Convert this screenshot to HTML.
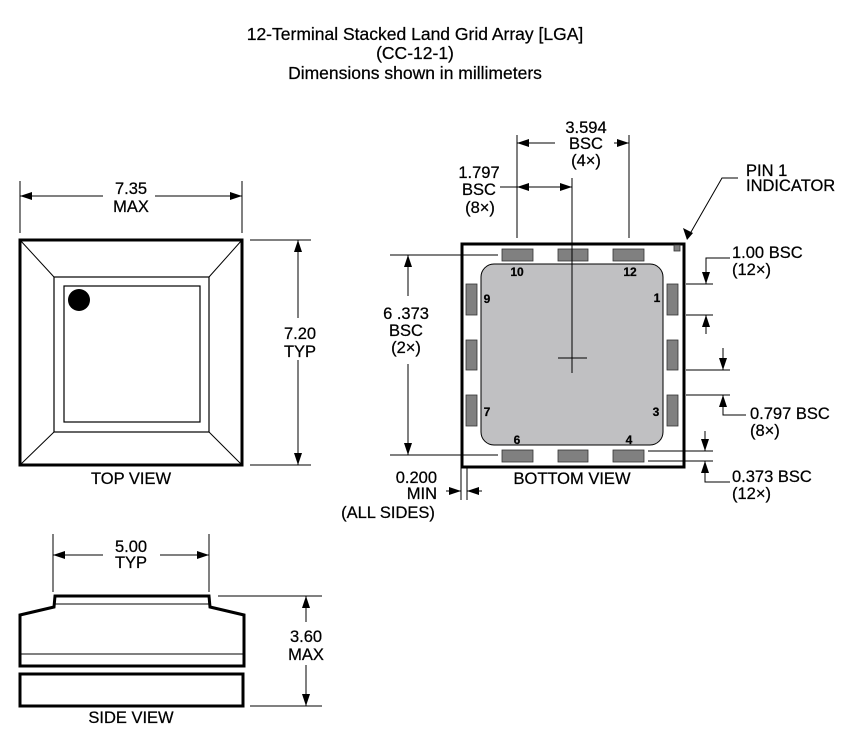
<!DOCTYPE html>
<html><head><meta charset="utf-8"><style>
html,body{margin:0;padding:0;background:#fff;}
svg{display:block;}
text{font-family:"Liberation Sans",Arial,sans-serif;fill:#000;stroke:#000;stroke-width:0.25;}
</style></head><body>
<svg width="864" height="745" viewBox="0 0 864 745" xmlns="http://www.w3.org/2000/svg">
<defs>
<marker id="a" viewBox="0 0 12 8" refX="12" refY="4" markerWidth="12" markerHeight="8" markerUnits="userSpaceOnUse" orient="auto"><path d="M0,0 L12,4 L0,8 Z" fill="#000"/></marker>
</defs>
<g font-size="17.5" text-anchor="middle">
<text x="415" y="40">12-Terminal Stacked Land Grid Array [LGA]</text>
<text x="415" y="59">(CC-12-1)</text>
<text x="415" y="79">Dimensions shown in millimeters</text>
</g>

<!-- TOP VIEW -->
<g stroke="#000" fill="none">
<rect x="20" y="240" width="222" height="225" stroke-width="3"/>
<rect x="54" y="277" width="155" height="155" stroke-width="1.2"/>
<rect x="64" y="286" width="136" height="136" stroke-width="1.2"/>
<line x1="20" y1="240" x2="54" y2="277"/><line x1="242" y1="240" x2="209" y2="277"/>
<line x1="20" y1="465" x2="54" y2="432"/><line x1="242" y1="465" x2="209" y2="432"/>
<line x1="20" y1="181" x2="20" y2="233"/><line x1="242" y1="181" x2="242" y2="233"/>
<line x1="103" y1="196" x2="20" y2="196" marker-end="url(#a)"/><line x1="155" y1="196" x2="242" y2="196" marker-end="url(#a)"/>
<line x1="250" y1="240" x2="311" y2="240"/><line x1="250" y1="465" x2="311" y2="465"/>
<line x1="298" y1="318" x2="298" y2="240" marker-end="url(#a)"/><line x1="298" y1="360" x2="298" y2="465" marker-end="url(#a)"/>
</g>
<circle cx="79" cy="300" r="11" fill="#000"/>
<g font-size="16.5" text-anchor="middle">
<text x="131" y="194">7.35</text><text x="131" y="212">MAX</text>
<text x="300" y="339">7.20</text><text x="300" y="357">TYP</text>
<text x="131" y="484">TOP VIEW</text>
</g>

<!-- SIDE VIEW -->
<g stroke="#000" fill="none">
<line x1="53" y1="534" x2="53" y2="592"/><line x1="209" y1="534" x2="209" y2="592"/>
<line x1="103" y1="555" x2="53" y2="555" marker-end="url(#a)"/><line x1="160" y1="555" x2="209" y2="555" marker-end="url(#a)"/>
<path d="M20,666 L20,615 L54,607 L55,596 L209,596 L210,607 L244,615 L244,666 Z" stroke-width="3"/>
<line x1="55" y1="604" x2="209" y2="604"/>
<line x1="20" y1="654" x2="244" y2="654"/>
<rect x="20" y="674" width="223" height="32" stroke-width="3"/>
<line x1="218" y1="596" x2="322" y2="596"/><line x1="250" y1="706" x2="322" y2="706"/>
<line x1="306" y1="622" x2="306" y2="596" marker-end="url(#a)"/><line x1="306" y1="665" x2="306" y2="706" marker-end="url(#a)"/>
</g>
<g font-size="16.5" text-anchor="middle">
<text x="131" y="552">5.00</text><text x="131" y="568">TYP</text>
<text x="306" y="642">3.60</text><text x="306" y="660">MAX</text>
<text x="131" y="723">SIDE VIEW</text>
</g>

<!-- BOTTOM VIEW -->
<rect x="462" y="244" width="222" height="223" fill="none" stroke="#000" stroke-width="3"/>
<rect x="481" y="264" width="182" height="181" rx="13" fill="#c0c0c2" stroke="#000" stroke-width="1"/>
<g fill="#808080" stroke="#333" stroke-width="0.8">
<rect x="502" y="249" width="31" height="12"/><rect x="558" y="249" width="30" height="12"/><rect x="613" y="249" width="31" height="12"/>
<rect x="502" y="450" width="31" height="12"/><rect x="558" y="450" width="30" height="12"/><rect x="613" y="450" width="31" height="12"/>
<rect x="466" y="284" width="11" height="31"/><rect x="466" y="340" width="11" height="30"/><rect x="466" y="395" width="11" height="31"/>
<rect x="667" y="284" width="11" height="31"/><rect x="667" y="340" width="11" height="30"/><rect x="667" y="395" width="11" height="31"/>
<rect x="674" y="245" width="6" height="6"/>
</g>
<g font-size="12" font-weight="bold" text-anchor="middle">
<text x="517" y="276">10</text><text x="630" y="276">12</text>
<text x="487" y="303">9</text><text x="657" y="302">1</text>
<text x="487" y="416">7</text><text x="656" y="416">3</text>
<text x="517" y="444">6</text><text x="629" y="444">4</text>
</g>
<g stroke="#000" fill="none">
<line x1="572" y1="178" x2="572" y2="373"/>
<line x1="558" y1="358" x2="587" y2="358"/>
<line x1="517" y1="135" x2="517" y2="238"/><line x1="629" y1="135" x2="629" y2="238"/>
<line x1="555" y1="143" x2="517" y2="143" marker-end="url(#a)"/><line x1="614" y1="143" x2="629" y2="143" marker-end="url(#a)"/>
<line x1="500" y1="187" x2="517" y2="187"/>
<line x1="545" y1="187" x2="517" y2="187" marker-end="url(#a)"/><line x1="545" y1="187" x2="572" y2="187" marker-end="url(#a)"/>
<line x1="390" y1="255" x2="498" y2="255"/><line x1="390" y1="455" x2="498" y2="455"/>
<line x1="408" y1="296" x2="408" y2="255" marker-end="url(#a)"/><line x1="408" y1="364" x2="408" y2="455" marker-end="url(#a)"/>
<polyline points="738,178 722,178 687,239"/>
<line x1="686" y1="284" x2="713" y2="284"/><line x1="686" y1="315" x2="713" y2="315"/>
<line x1="686" y1="370" x2="730" y2="370"/><line x1="686" y1="395" x2="730" y2="395"/>
<polyline points="730,258 706,258 706,284" marker-end="url(#a)"/>
<line x1="706" y1="334" x2="706" y2="315" marker-end="url(#a)"/>
<line x1="723" y1="348" x2="723" y2="370" marker-end="url(#a)"/>
<polyline points="746,415 723,415 723,395" marker-end="url(#a)"/>
<line x1="648" y1="451" x2="713" y2="451"/><line x1="648" y1="461" x2="713" y2="461"/>
<line x1="705" y1="431" x2="705" y2="451" marker-end="url(#a)"/>
<polyline points="730,482 705,482 705,461" marker-end="url(#a)"/>
<line x1="461" y1="467" x2="461" y2="500"/><line x1="467" y1="467" x2="467" y2="500"/>
<line x1="446" y1="491" x2="461" y2="491" marker-end="url(#a)"/><line x1="482" y1="491" x2="467" y2="491" marker-end="url(#a)"/>
</g>
<path d="M687,240 L683,228 L693,233 Z" fill="#000"/>
<g font-size="16.5" text-anchor="middle">
<text x="586" y="133">3.594</text><text x="586" y="149">BSC</text><text x="586" y="166">(4×)</text>
<text x="479" y="178">1.797</text><text x="479" y="195">BSC</text><text x="480" y="213">(8×)</text>
<text x="406" y="319">6 .373</text><text x="406" y="336">BSC</text><text x="406" y="353">(2×)</text>
<text x="572" y="484">BOTTOM VIEW</text>
<text x="388" y="518">(ALL SIDES)</text>
</g>
<g font-size="16.5" text-anchor="end">
<text x="437" y="483">0.200</text><text x="437" y="499">MIN</text>
</g>
<g font-size="16.5">
<text x="746" y="176">PIN 1</text><text x="746" y="191">INDICATOR</text>
<text x="732" y="258">1.00 BSC</text><text x="732" y="275">(12×)</text>
<text x="750" y="419">0.797 BSC</text><text x="750" y="436">(8×)</text>
<text x="732" y="482">0.373 BSC</text><text x="732" y="499">(12×)</text>
</g>
</svg>
</body></html>
